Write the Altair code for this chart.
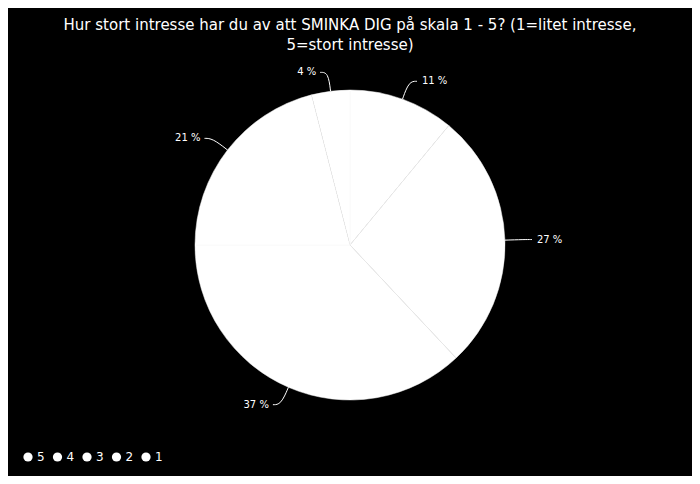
import altair as alt
import pandas as pd

categories = ["5", "4", "3", "2", "1"]
shares = [11, 27, 37, 21, 4]
order_idx = [0, 1, 2, 3, 4]

title_lines = ["Hur stort intresse har du av att SMINKA DIG på skala 1 - 5? (1=litet intresse,", "5=stort intresse)"]

df = pd.DataFrame({"cat": categories, "share": shares, "idx": order_idx})

CX, CY, R = 342, 185, 155
R_EL = 174
HOOK = 8

base = alt.Chart(df)

pie = base.mark_arc(radius=R, stroke="#f5f5f5", strokeWidth=0.5).encode(
    theta=alt.Theta("share:Q", stack=True),
    order=alt.Order("idx:Q"),
    color=alt.Color(
        "cat:N",
        scale=alt.Scale(domain=categories, range=["#ffffff"] * 5),
        legend=alt.Legend(
            orient="none", direction="horizontal", legendX=14, legendY=391,
            title=None, symbolType="circle", symbolSize=85, symbolStrokeWidth=0,
            labelColor="white", labelFontSize=12, labelFont="DejaVu Sans",
            columnPadding=6.5, labelOffset=3,
        ),
    ),
    x=alt.value(CX), y=alt.value(CY),
)

geo = (
    base.transform_joinaggregate(total="sum(share)")
    .transform_window(cum="sum(share)", sort=[alt.SortField("idx")], frame=[None, 0])
    .transform_calculate(mid="(datum.cum - datum.share/2) / datum.total * 2 * PI")
    .transform_calculate(
        side="sin(datum.mid) >= 0 ? 1 : -1",
        ex=f"{CX} + {R}*sin(datum.mid)",
        ey=f"{CY} - {R}*cos(datum.mid)",
        bx=f"{CX} + {R_EL}*sin(datum.mid)",
        by=f"{CY} - {R_EL}*cos(datum.mid)",
        label="datum.share + ' %'",
    )
    .transform_calculate(endx=f"datum.bx + datum.side*{HOOK}")
)

lines = (
    geo.transform_calculate(a="0", b="1", c="2")
    .transform_fold(["a", "b", "c"], as_=["k", "v"])
    .transform_calculate(
        px="datum.v == '0' ? datum.ex : (datum.v == '1' ? datum.bx : datum.endx)",
        py="datum.v == '0' ? datum.ey : datum.by",
    )
    .mark_line(color="white", strokeWidth=1, interpolate="basis")
    .encode(
        x=alt.X("px:Q", scale=None),
        y=alt.Y("py:Q", scale=None),
        detail="cat:N",
        order="v:Q",
    )
)

txt_r = (
    geo.transform_filter("datum.side > 0")
    .transform_calculate(tx="datum.endx + 5")
    .mark_text(color="white", fontSize=10, font="DejaVu Sans", align="left", baseline="middle")
    .encode(x=alt.X("tx:Q", scale=None), y=alt.Y("by:Q", scale=None), text="label:N")
)
txt_l = (
    geo.transform_filter("datum.side < 0")
    .transform_calculate(tx="datum.endx - 4")
    .mark_text(color="white", fontSize=10, font="DejaVu Sans", align="right", baseline="middle")
    .encode(x=alt.X("tx:Q", scale=None), y=alt.Y("by:Q", scale=None), text="label:N")
)

chart = (
    alt.layer(pie, lines, txt_r, txt_l)
    .properties(
        width=684, height=416,
        title=alt.TitleParams(title_lines, anchor="middle", frame="group", offset=7),
        autosize=alt.AutoSizeParams(type="none"),
        padding={"left": 0, "right": 0, "top": 52, "bottom": 0},
    )
    .configure(background="black")
    .configure_view(stroke=None)
    .configure_title(color="white", fontSize=15, font="DejaVu Sans", fontWeight="normal", lineHeight=20)
)

chart.save("out.html", embed_options={"renderer": "svg", "actions": False})
